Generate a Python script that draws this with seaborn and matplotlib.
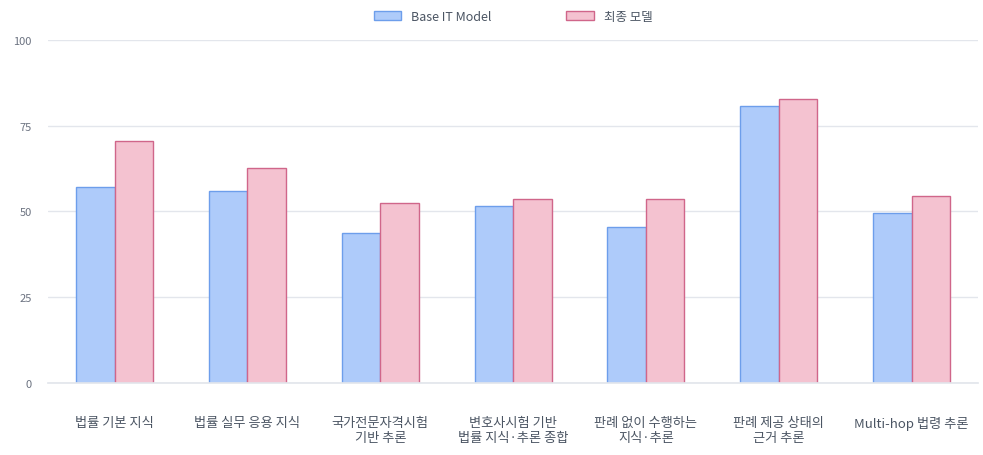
import matplotlib
matplotlib.use("Agg")
import matplotlib.pyplot as plt
import seaborn as sns
import pandas as pd
from matplotlib.patches import Patch

categories = ["법률 기본 지식", "법률 실무 응용 지식", "국가전문자격시험\n기반 추론",
              "변호사시험 기반\n법률 지식·추론 종합", "판례 없이 수행하는\n지식·추론",
              "판례 제공 상태의\n근거 추론", "Multi-hop 법령 추론"]
base_vals = [57.0, 56.1, 43.6, 51.5, 45.6, 80.7, 49.7]
final_vals = [70.5, 62.6, 52.6, 53.5, 53.5, 82.7, 54.4]
series = ["Base IT Model", "최종 모델"]

sns.set_theme(style="white")
plt.rcParams['font.family'] = ['Noto Sans CJK KR', 'DejaVu Sans']

df = pd.DataFrame({
    "cat": categories * 2,
    "val": base_vals + final_vals,
    "model": [series[0]] * 7 + [series[1]] * 7,
})

fills = ["#aecbfa", "#f4c2d0"]
edges = ["#6d9eeb", "#d0668a"]
fig, ax = plt.subplots(figsize=(9.83, 4.56), dpi=100)
fig.subplots_adjust(left=0.049, right=0.995, top=0.91, bottom=0.158)
sns.barplot(data=df, x="cat", y="val", hue="model", ax=ax,
            palette=fills, saturation=1, width=0.58, gap=0, legend=False)
for i, cont in enumerate(ax.containers):
    for p in cont:
        p.set_edgecolor(edges[i]); p.set_linewidth(1)

ax.set_ylim(0, 100)
ax.set_yticks([0, 25, 50, 75, 100])
ax.yaxis.grid(True, color="#e3e6ec", linewidth=1)
ax.set_axisbelow(True)
for s in ["top", "right", "left"]:
    ax.spines[s].set_visible(False)
ax.spines["bottom"].set_color("#e3e6ec")
ax.tick_params(axis="y", colors="#6b7280", labelsize=8, length=0, pad=12)
ax.tick_params(axis="x", colors="#4b5563", labelsize=9.5, length=0, pad=24)
ax.set_xlabel(""); ax.set_ylabel("")
handles = [Patch(facecolor=fills[i], edgecolor=edges[i], label=series[i]) for i in range(2)]
ax.legend(handles=handles, loc="upper center", bbox_to_anchor=(0.5, 1.12), ncol=2, frameon=False,
          fontsize=9, labelcolor="#4b5563", columnspacing=6, handlelength=2.2)
fig.savefig("out.png", dpi=100)
